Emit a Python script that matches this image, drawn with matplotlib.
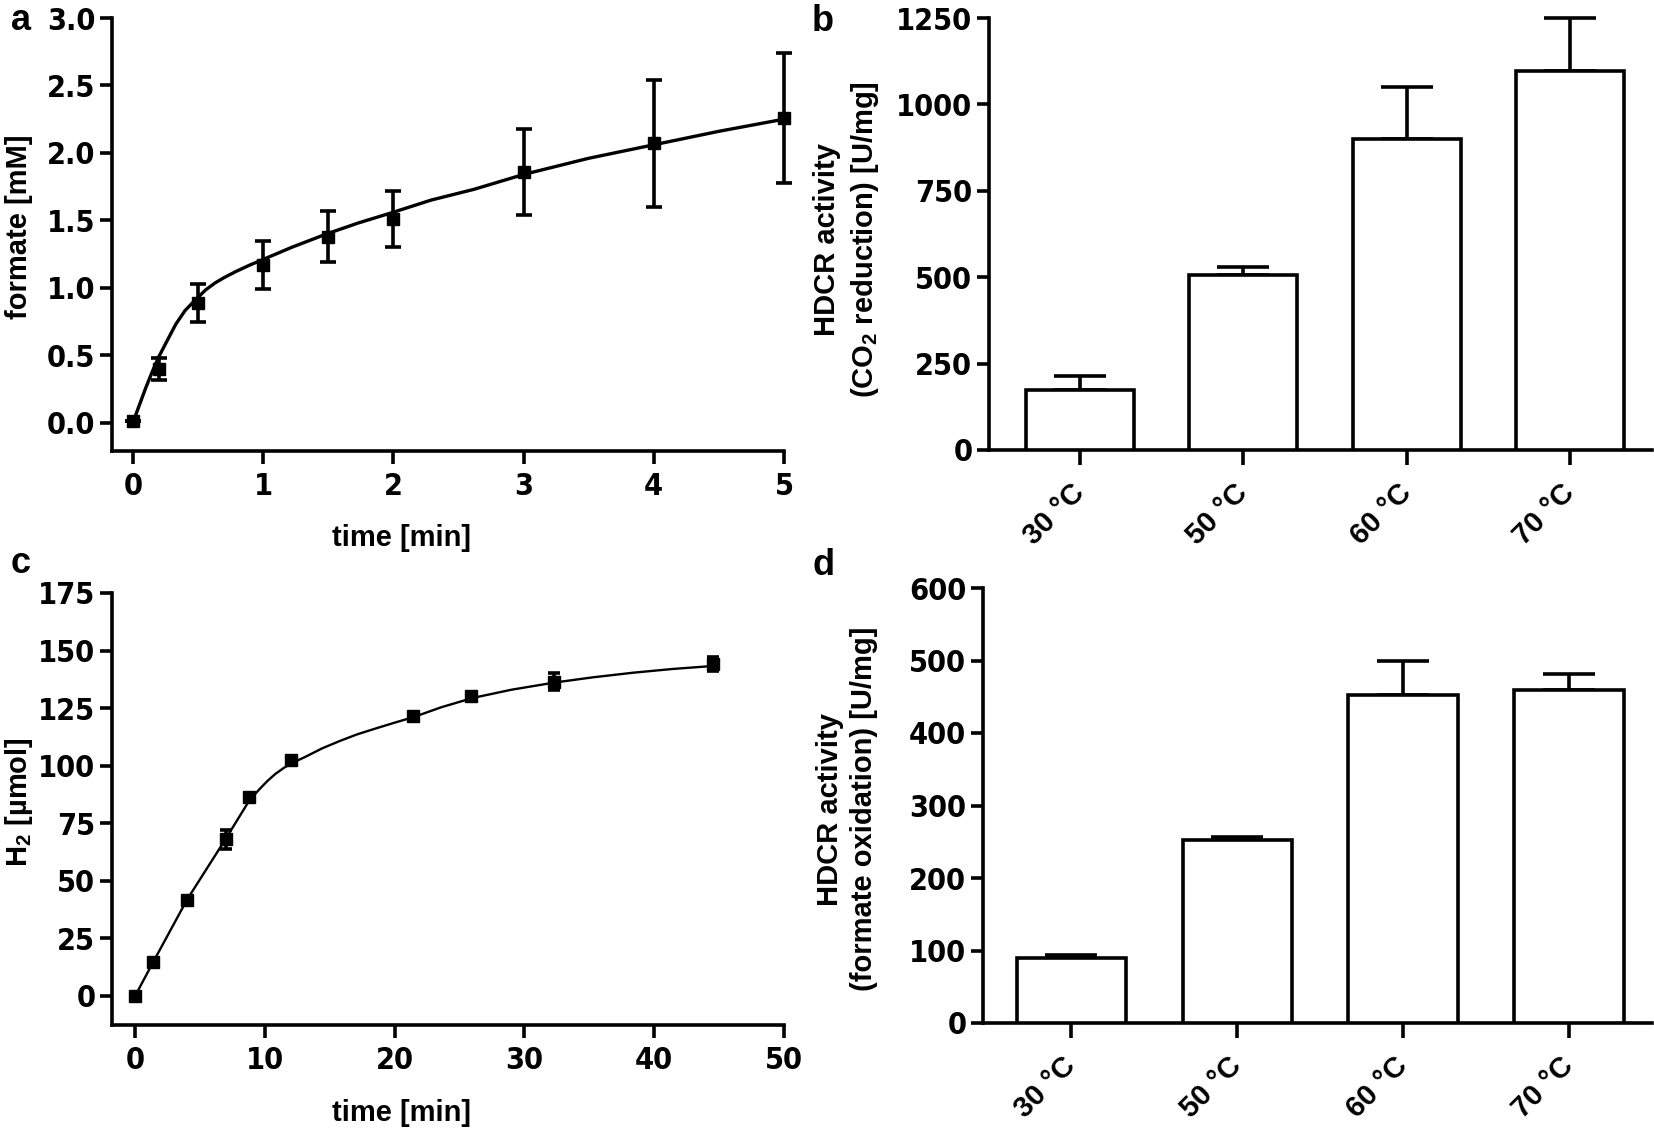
import numpy as np
import matplotlib
matplotlib.use('Agg')
import matplotlib.pyplot as plt
from matplotlib import font_manager

# ---- data ----
# a: formate vs time
time_a = [0, 0.2, 0.5, 1.0, 1.5, 2.0, 3.0, 4.0, 5.0]
formate = [0.01, 0.40, 0.89, 1.17, 1.38, 1.51, 1.86, 2.07, 2.26]
formate_sd = [0.0, 0.08, 0.14, 0.18, 0.19, 0.21, 0.32, 0.47, 0.48]
fit_a_t = [0, 0.05, 0.1, 0.15, 0.2, 0.27, 0.33, 0.4, 0.49, 0.56, 0.63, 0.7, 0.79, 0.89, 1.0,
           1.22, 1.49, 1.73, 2.0, 2.29, 2.62, 3.0, 3.5, 4.0, 4.5, 5.0]
fit_a_y = [0.0, 0.13, 0.26, 0.38, 0.49, 0.62, 0.73, 0.83, 0.92, 0.985, 1.035, 1.075, 1.12, 1.165, 1.21,
           1.30, 1.40, 1.48, 1.56, 1.65, 1.73, 1.84, 1.96, 2.06, 2.16, 2.25]

# c: H2 vs time
time_c = [0, 1.4, 4.0, 7.0, 8.8, 12.0, 21.4, 25.9, 32.3, 44.5]
h2 = [0, 14.8, 41.5, 68, 86.5, 102.5, 121.5, 130.2, 136.5, 144]
h2_sd = [0, 0, 0, 4, 0, 0, 0, 0, 3.8, 3]
fit_c_t = [0, 1.4, 4.0, 7.0, 8.8, 9.6, 10.2, 10.8, 11.5, 12.3, 13.1, 14.4, 15.8, 17.1, 18.5,
           20.0, 21.4, 23.6, 26.0, 29.0, 32.3, 35.3, 38.4, 41.4, 44.5]
fit_c_y = [0, 14.8, 41.8, 68.4, 84.9, 89.9, 93.4, 96.4, 99.2, 101.7, 103.8, 107.5, 110.8, 113.6, 116.1,
           118.7, 121.0, 125.4, 129.4, 133.0, 136.1, 138.4, 140.4, 142.0, 143.3]

# b, d: HDCR activity per temperature
temps = ['30 °C', '50 °C', '60 °C', '70 °C']
co2_red = [174, 505, 900, 1097]
co2_red_sd = [41, 24, 150, 153]
formate_ox = [90, 252, 453, 460]
formate_ox_sd = [4, 5, 47, 22]

plt.rcParams['mathtext.fontset'] = 'custom'
plt.rcParams['mathtext.rm'] = 'Liberation Sans:bold'
plt.rcParams['mathtext.bf'] = 'Liberation Sans:bold'
plt.rcParams['mathtext.default'] = 'rm'

# condensed face for the numeric tick labels if one is installed
names = {f.name for f in font_manager.fontManager.ttflist}
narrow = dict(family='Liberation Sans')
if 'Liberation Sans Narrow' in names:
    narrow = dict(family='Liberation Sans Narrow')
elif any(f.name == 'DejaVu Sans' and 'condensed' in str(f.stretch) for f in font_manager.fontManager.ttflist):
    narrow = dict(family='DejaVu Sans', stretch='condensed')

LW = 2.6
tick_font = dict(weight='bold', size=22, **narrow)
lab_font = dict(family='Liberation Sans', weight='bold', size=21)

W, H = 1654, 1133
fig = plt.figure(figsize=(W / 100, H / 100), dpi=100)


def box(x0, y0, x1, y1):
    return [x0 / W, 1 - y1 / H, (x1 - x0) / W, (y1 - y0) / H]


def style(ax, xfont=tick_font):
    for s in ['top', 'right']:
        ax.spines[s].set_visible(False)
    for s in ['left', 'bottom']:
        ax.spines[s].set_linewidth(LW)
    ax.tick_params(direction='out', length=9, width=LW, pad=3)
    for lbl in ax.get_yticklabels():
        lbl.set(**tick_font)
    for lbl in ax.get_xticklabels():
        lbl.set(**xfont)


# ---- a ----
ax = fig.add_axes(box(112, 18, 784, 451))
ax.plot(fit_a_t, fit_a_y, color='k', lw=2.4, clip_on=False)
ax.errorbar(time_a, formate, yerr=formate_sd, fmt='s', color='k', ms=8,
            elinewidth=2.6, capsize=6, capthick=2.6, clip_on=False)
ax.set_xlim(-0.16, 5)
ax.set_ylim(-0.21, 3.0)
ax.set_xticks(range(6))
ax.set_yticks(np.arange(0, 3.01, 0.5))
ax.set_yticklabels(['%.1f' % v for v in np.arange(0, 3.01, 0.5)])
style(ax)
ax.tick_params(axis='x', pad=6)
fig.text(19 / W, 1 - 227 / H, 'formate [mM]', rotation=90, ha='center', va='center', **lab_font)
fig.text(401 / W, 1 - 538 / H, 'time [min]', ha='center', va='center', **lab_font)

# ---- c ----
ax = fig.add_axes(box(112, 593, 784, 1025))
ax.plot(fit_c_t, fit_c_y, color='k', lw=1.7, clip_on=False)
ax.errorbar(time_c, h2, yerr=h2_sd, fmt='s', color='k', ms=8,
            elinewidth=2.6, capsize=4.5, capthick=2.6, clip_on=False)
ax.set_xlim(-1.78, 50)
ax.set_ylim(-12.6, 175)
ax.set_xticks(range(0, 51, 10))
ax.set_yticks(range(0, 176, 25))
style(ax)
ax.tick_params(axis='x', pad=6)
fig.text(19 / W, 1 - 802 / H, r'H$_2$ [µmol]', rotation=90, ha='center', va='center', **lab_font)
fig.text(401 / W, 1 - 1113 / H, 'time [min]', ha='center', va='center', **lab_font)


# ---- b, d ----
def bars(ax, vals, sd, top, step, left):
    x = np.arange(len(vals))
    ax.errorbar(x, vals, yerr=[np.zeros(len(sd)), sd], fmt='none', ecolor='k',
                elinewidth=LW, capsize=19, capthick=LW, clip_on=False, zorder=2)
    ax.bar(x, vals, width=0.66, color='white', edgecolor='k', linewidth=LW, zorder=3)
    ax.set_xlim(left, 3.5)
    ax.set_ylim(0, top)
    ax.set_yticks(np.arange(0, top + 1, step))
    ax.set_xticks(x)
    ax.set_xticklabels(temps, rotation=45, ha='right', va='center', rotation_mode='anchor')
    style(ax, dict(family='Liberation Sans', weight='bold', size=21))
    ax.tick_params(axis='x', length=11, pad=17)


ax = fig.add_axes(box(989, 18, 1652, 450))
bars(ax, co2_red, co2_red_sd, 1250, 250, -0.555)
fig.text(847 / W, 1 - 240 / H, 'HDCR activity\n(CO$_2$ reduction) [U/mg]', rotation=90,
         ha='center', va='center', linespacing=1.3, **lab_font)

ax = fig.add_axes(box(983, 588, 1652, 1023))
bars(ax, formate_ox, formate_ox_sd, 600, 100, -0.533)
fig.text(847 / W, 1 - 809 / H, 'HDCR activity\n(formate oxidation) [U/mg]', rotation=90,
         ha='center', va='center', linespacing=1.3, **lab_font)

# panel letters
let = dict(family='Liberation Sans', weight='bold', size=26)
fig.text(11 / W, 1 - 30 / H, 'a', **let)
fig.text(812 / W, 1 - 31 / H, 'b', **let)
fig.text(11 / W, 1 - 573 / H, 'c', **let)
fig.text(812 / W, 1 - 575 / H, 'd', **let)

fig.savefig('out.png', dpi=100)
